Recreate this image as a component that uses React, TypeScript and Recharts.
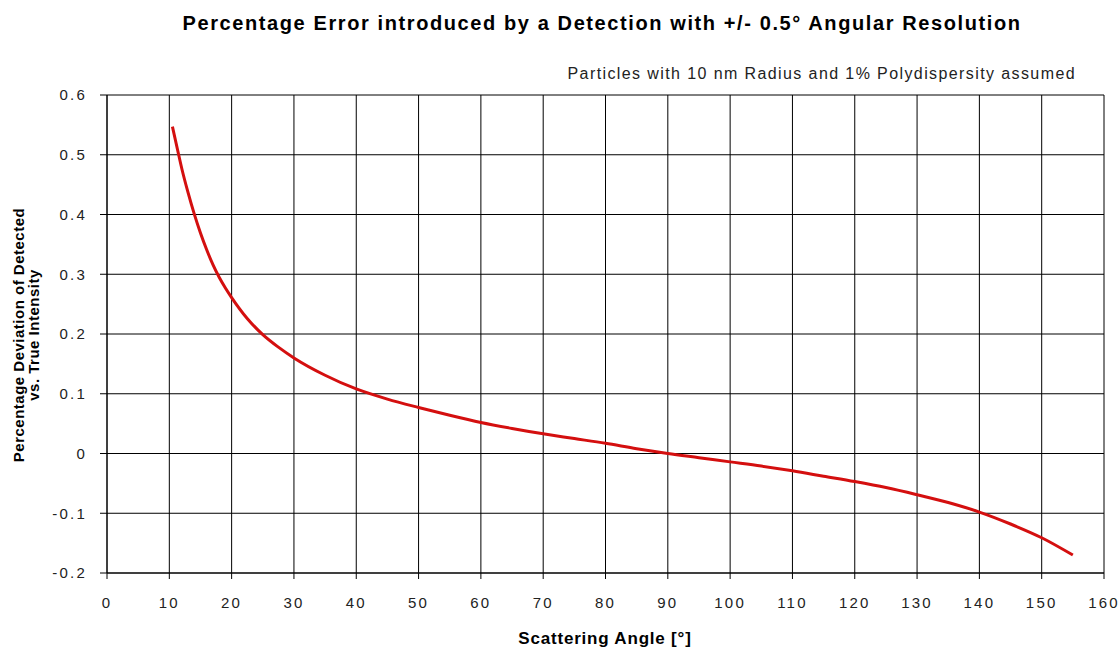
import { LineChart, Line, XAxis, YAxis, CartesianGrid } from "recharts";

// Scattering angle (deg) and percentage deviation
const angles = [
  10.5, 11.5, 12, 13, 14, 15, 16, 17, 18, 19, 20, 22.5, 25, 27.5, 30, 35, 40,
  45, 50, 55, 60, 65, 70, 75, 80, 85, 90, 95, 100, 105, 110, 115, 120, 125, 130,
  135, 140, 145, 150, 155,
];
const deviation = [
  0.547, 0.5, 0.477, 0.437, 0.401, 0.369, 0.341, 0.316, 0.295, 0.277, 0.261,
  0.226, 0.199, 0.178, 0.16, 0.131, 0.108, 0.091, 0.077, 0.064, 0.052, 0.042,
  0.033, 0.025, 0.017, 0.008, 0.0, -0.007, -0.014, -0.021, -0.029, -0.038,
  -0.047, -0.057, -0.069, -0.082, -0.098, -0.118, -0.141, -0.17,
];
const xTicks = [0, 10, 20, 30, 40, 50, 60, 70, 80, 90, 100, 110, 120, 130, 140, 150, 160];
const yTicks = [-0.2, -0.1, 0, 0.1, 0.2, 0.3, 0.4, 0.5, 0.6];

const data = angles.map((a, i) => ({ angle: a, dev: deviation[i] }));

const tickStyle = {
  fontSize: 15,
  fill: "#222",
  fontFamily: "Liberation Sans, Arial, sans-serif",
  letterSpacing: 2.2,
};

export default function App() {
  return (
    <div
      style={{
        position: "absolute",
        left: 0,
        top: 0,
        width: 1120,
        height: 649,
        background: "#fff",
        fontFamily: "Liberation Sans, Arial, sans-serif",
      }}
    >
      <LineChart
        width={1120}
        height={649}
        data={data}
        margin={{ top: 95, right: 16, bottom: 30, left: 0 }}
      >
        <CartesianGrid stroke="#000" strokeWidth={1} />
        <XAxis
          type="number"
          dataKey="angle"
          domain={[0, 160]}
          ticks={xTicks}
          interval={0}
          height={46}
          tick={tickStyle}
          tickSize={6}
          tickMargin={18}
          stroke="#000"
        />
        <YAxis
          type="number"
          domain={[-0.2, 0.6]}
          ticks={yTicks}
          interval={0}
          width={107}
          tick={tickStyle}
          tickSize={7}
          tickMargin={13}
          tickFormatter={(v: number) => (v === 0 ? "0" : String(Math.round(v * 10) / 10))}
          stroke="#000"
        />
        <Line
          type="monotone"
          dataKey="dev"
          stroke="#d40f0f"
          strokeWidth={3}
          dot={false}
          isAnimationActive={false}
        />
      </LineChart>
      <div
        style={{
          position: "absolute",
          left: 0,
          width: 1204,
          top: 12,
          textAlign: "center",
          fontWeight: "bold",
          fontSize: 20,
          letterSpacing: 1.6,
          color: "#000",
        }}
      >
        Percentage Error introduced by a Detection with +/- 0.5° Angular Resolution
      </div>
      <div
        style={{
          position: "absolute",
          right: 44,
          top: 65,
          fontSize: 16,
          letterSpacing: 1.4,
          color: "#222",
        }}
      >
        Particles with 10 nm Radius and 1% Polydispersity assumed
      </div>
      <div
        style={{
          position: "absolute",
          left: 0,
          width: 1210,
          top: 629,
          textAlign: "center",
          fontWeight: "bold",
          fontSize: 17,
          letterSpacing: 0.8,
          color: "#000",
        }}
      >
        Scattering Angle [°]
      </div>
      <div
        style={{
          position: "absolute",
          left: 26,
          top: 335,
          width: 320,
          transform: "translate(-50%, -50%) rotate(-90deg)",
          textAlign: "center",
          fontWeight: "bold",
          fontSize: 15,
          letterSpacing: 0.5,
          lineHeight: "15px",
          color: "#000",
        }}
      >
        Percentage Deviation of Detected
        <br />
        vs. True Intensity
      </div>
    </div>
  );
}
